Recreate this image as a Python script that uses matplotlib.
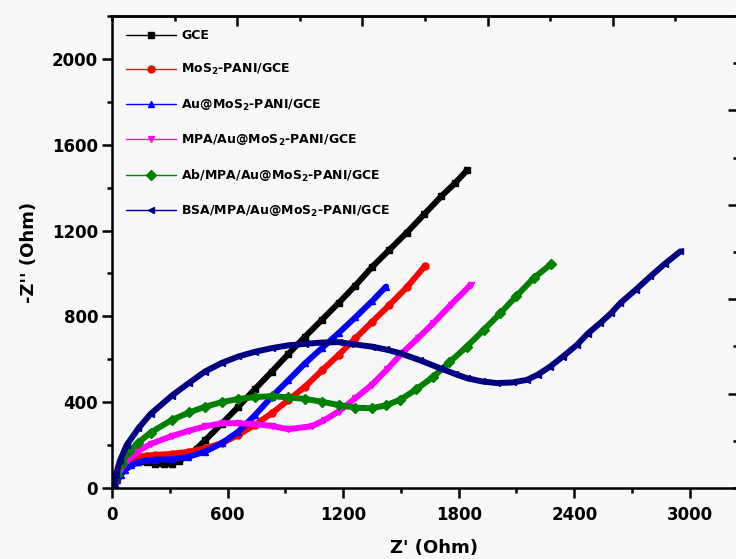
import matplotlib
matplotlib.use("Agg")
import matplotlib.pyplot as plt
from matplotlib.ticker import MultipleLocator

# Nyquist data: Z' (Ohm), -Z'' (Ohm)
gce_x = [12, 25, 45, 68, 100, 137, 180, 223, 270, 310, 350, 397, 440, 483, 570, 656, 743, 830,
         916, 1003, 1090, 1176, 1263, 1350, 1440, 1530, 1620, 1710, 1780, 1845]
gce_y = [0, 45, 82, 104, 118, 122, 119, 114, 111, 114, 128, 152, 184, 222, 300, 379, 462, 543,
         625, 706, 784, 862, 943, 1030, 1110, 1190, 1275, 1360, 1420, 1483]

mos2_x = [12, 25, 50, 80, 110, 137, 180, 223, 310, 397, 483, 570, 656, 743, 830, 916, 1003,
          1090, 1176, 1263, 1349, 1440, 1530, 1626]
mos2_y = [0, 45, 95, 125, 139, 146, 151, 154, 159, 169, 185, 209, 247, 295, 349, 410, 473,
          548, 620, 697, 773, 853, 935, 1036]

au_x = [12, 25, 45, 68, 100, 137, 180, 223, 310, 397, 483, 570, 656, 743, 830, 916, 1003,
        1090, 1176, 1263, 1349, 1423]
au_y = [0, 35, 62, 84, 106, 121, 129, 132, 134, 146, 169, 209, 263, 340, 426, 503, 582,
        652, 722, 795, 870, 939]

mpa_x = [12, 25, 45, 68, 100, 137, 200, 310, 400, 483, 570, 656, 743, 830, 916, 1037, 1100,
         1176, 1263, 1349, 1430, 1505, 1590, 1669, 1760, 1862]
mpa_y = [0, 50, 88, 116, 145, 172, 205, 242, 267, 287, 302, 302, 298, 289, 274, 288, 315,
         356, 418, 481, 555, 628, 700, 769, 855, 947]

ab_x = [12, 25, 50, 90, 137, 200, 310, 400, 483, 570, 656, 743, 830, 916, 1003, 1090, 1176,
        1263, 1349, 1420, 1496, 1580, 1669, 1750, 1842, 1930, 2016, 2100, 2189, 2281]
ab_y = [0, 60, 118, 172, 212, 258, 317, 352, 379, 400, 415, 424, 428, 422, 415, 402, 387,
        374, 372, 385, 411, 460, 519, 585, 659, 737, 815, 895, 978, 1045]

bsa_x = [12, 20, 40, 76, 137, 200, 310, 400, 483, 570, 656, 743, 830, 916, 1003, 1090, 1176,
         1236, 1349, 1420, 1496, 1600, 1704, 1780, 1842, 1920, 1998, 2080, 2154, 2210, 2275,
         2340, 2414, 2470, 2535, 2590, 2639, 2720, 2795, 2870, 2951]
bsa_y = [0, 60, 125, 200, 278, 345, 430, 490, 543, 583, 613, 635, 652, 665, 672, 678, 680,
         672, 659, 646, 628, 595, 558, 532, 512, 497, 489, 492, 504, 528, 566,
         612, 667, 720, 769, 814, 862, 925, 986, 1045, 1103]

labels = ["GCE",
          r"MoS$_2$-PANI/GCE",
          r"Au@MoS$_2$-PANI/GCE",
          r"MPA/Au@MoS$_2$-PANI/GCE",
          r"Ab/MPA/Au@MoS$_2$-PANI/GCE",
          r"BSA/MPA/Au@MoS$_2$-PANI/GCE"]
colors = ["black", "red", "blue", "magenta", "green", "navy"]
markers = ["s", "o", "^", "v", "D", "<"]


def main():
    plt.rcParams["font.family"] = "DejaVu Sans"
    plt.rcParams["font.weight"] = "bold"
    plt.rcParams["mathtext.fontset"] = "dejavusans"
    plt.rcParams["mathtext.default"] = "bf"

    bg = "#f8f8f8"
    fig = plt.figure(figsize=(7.36, 5.59), dpi=100, facecolor=bg)
    ax = fig.add_axes([112 / 736, 71 / 559, 626 / 736, 472 / 559], facecolor=bg)

    series = [(gce_x, gce_y), (mos2_x, mos2_y), (au_x, au_y),
              (mpa_x, mpa_y), (ab_x, ab_y), (bsa_x, bsa_y)]
    for (x, y), lab, c, m in zip(series, labels, colors, markers):
        ax.plot(x, y, color=c, lw=4.3, marker=m, ms=5, label=lab,
                solid_capstyle="round", solid_joinstyle="round")

    ax.set_xlim(0, 3250)
    ax.set_ylim(0, 2200)
    ax.set_xticks([0, 600, 1200, 1800, 2400, 3000])
    ax.set_yticks([0, 400, 800, 1200, 1600, 2000])
    ax.xaxis.set_minor_locator(MultipleLocator(300))
    ax.yaxis.set_minor_locator(MultipleLocator(200))
    ax.tick_params(which="both", direction="out", width=1.8, labelsize=12)
    ax.tick_params(which="major", length=7)
    ax.tick_params(which="minor", length=3.5)
    ax.tick_params(axis="x", pad=6)
    ax.tick_params(axis="y", pad=3)
    for sp in ax.spines.values():
        sp.set_linewidth(1.8)

    # frame ticks on top and right (own spacing, no labels)
    top = ax.secondary_xaxis("top")
    top.set_xticks([650, 1300, 1950, 2600])
    top.xaxis.set_minor_locator(MultipleLocator(325))
    top.tick_params(which="both", direction="in", width=1.8, labeltop=False)
    top.tick_params(which="major", length=7)
    top.tick_params(which="minor", length=3.5)
    top.spines["top"].set_linewidth(1.8)

    right = ax.secondary_yaxis("right")
    right.set_yticks([440, 880, 1320, 1760])
    right.yaxis.set_minor_locator(MultipleLocator(220))
    right.tick_params(which="both", direction="in", width=1.8, labelright=False)
    right.tick_params(which="major", length=7)
    right.tick_params(which="minor", length=3.5)

    ax.set_xlabel("Z' (Ohm)", fontsize=13, fontweight="bold", labelpad=10)
    ax.set_ylabel("-Z'' (Ohm)", fontsize=13, fontweight="bold", labelpad=10)
    ax.xaxis.set_label_coords(0.515, -0.108)

    leg = ax.legend(loc="upper left", bbox_to_anchor=(0.013, 0.985), frameon=False,
                    fontsize=9, handlelength=4.0, handletextpad=0.4,
                    labelspacing=1.6, borderpad=0, markerscale=1.0)
    for h in leg.get_lines():
        h.set_linewidth(1.0)

    fig.savefig("out.png", dpi=100, facecolor=bg)


if __name__ == "__main__":
    main()
